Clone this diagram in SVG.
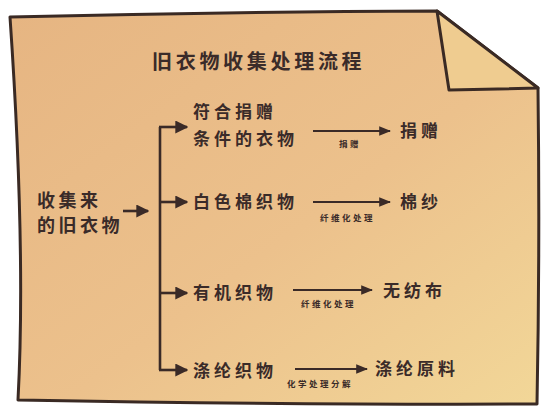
<svg xmlns="http://www.w3.org/2000/svg" width="545" height="410" viewBox="0 0 545 410">
<defs>
<linearGradient id="paper" x1="0" y1="0" x2="1" y2="1">
<stop offset="0" stop-color="#E6B582"/>
<stop offset="0.55" stop-color="#ECC18C"/>
<stop offset="1" stop-color="#F2D798"/>
</linearGradient>
<marker id="ah" viewBox="0 0 10 10" refX="9" refY="5" markerWidth="5" markerHeight="5" markerUnits="strokeWidth" orient="auto">
<path d="M0,0 L10,5 L0,10 Z" fill="#3a2a27"/>
</marker>
<marker id="ah2" viewBox="0 0 10 10" refX="9" refY="5" markerWidth="6" markerHeight="6" markerUnits="strokeWidth" orient="auto">
<path d="M0,1 L10,5 L0,9 Z" fill="#3a2a27"/>
</marker>
</defs>
<style>
.t{font-family:"Noto Sans CJK SC","Noto Sans CJK JP",sans-serif;font-weight:bold;fill:#3a2b29}
.title{font-size:20px;letter-spacing:3.7px}
.big{font-size:18px;letter-spacing:3.5px}
.node{font-size:17px;letter-spacing:4px}
.small{font-size:8.5px;letter-spacing:2.5px}
.ln{stroke:#3a2a27;stroke-width:2.6;fill:none}
.ln2{stroke:#3a2a27;stroke-width:2;fill:none}
</style>
<rect width="545" height="410" fill="#ffffff"/>
<g id="paper-sheet">
<path d="M10,17 Q220,12 437,11 L538,88 Q540,250 537,404 Q300,405 18,400 Q26,250 10,17 Z" fill="url(#paper)" stroke="#3a2a24" stroke-width="3" stroke-linejoin="round"/>
<path d="M437,11 L449,90 L538,88 Z" fill="#EFCC90" stroke="#3a2a24" stroke-width="3" stroke-linejoin="round"/>
</g>
<g id="title"><text class="t title" x="152" y="69">旧衣物收集处理流程</text></g>
<g id="connectors">
<line class="ln" x1="123" y1="211" x2="148" y2="211" marker-end="url(#ah)"/>
<path class="ln" d="M160,127 L160,370"/>
<line class="ln" x1="159" y1="127" x2="187" y2="127" marker-end="url(#ah)"/>
<line class="ln" x1="160" y1="202" x2="187" y2="202" marker-end="url(#ah)"/>
<line class="ln" x1="160" y1="293" x2="187" y2="293" marker-end="url(#ah)"/>
<line class="ln" x1="159" y1="370" x2="187" y2="370" marker-end="url(#ah)"/>
<line class="ln2" x1="313" y1="131" x2="390" y2="131" marker-end="url(#ah2)"/>
<line class="ln2" x1="313" y1="202" x2="390" y2="202" marker-end="url(#ah2)"/>
<line class="ln2" x1="293" y1="290" x2="372" y2="290" marker-end="url(#ah2)"/>
<line class="ln2" x1="295" y1="369" x2="367" y2="369" marker-end="url(#ah2)"/>
<text class="t small" x="339" y="147">捐赠</text>
<text class="t small" x="320" y="221">纤维化处理</text>
<text class="t small" x="301" y="307">纤维化处理</text>
<text class="t small" x="287" y="387">化学处理分解</text>
</g>
<g id="source"><text class="t big" x="37" y="207">收集来</text><text class="t big" x="37" y="232">的旧衣物</text></g>
<g id="node-donate"><text class="t node" x="193" y="118">符合捐赠</text><text class="t node" x="193" y="145">条件的衣物</text></g>
<g id="node-cotton"><text class="t node" x="193" y="208">白色棉织物</text></g>
<g id="node-organic"><text class="t node" x="193" y="299">有机织物</text></g>
<g id="node-polyester"><text class="t node" x="193" y="377">涤纶织物</text></g>
<g id="res-donate"><text class="t node" x="400" y="137">捐赠</text></g>
<g id="res-yarn"><text class="t node" x="400" y="208">棉纱</text></g>
<g id="res-nonwoven"><text class="t node" x="383" y="297">无纺布</text></g>
<g id="res-polyester"><text class="t node" x="375" y="375">涤纶原料</text></g>
</svg>
